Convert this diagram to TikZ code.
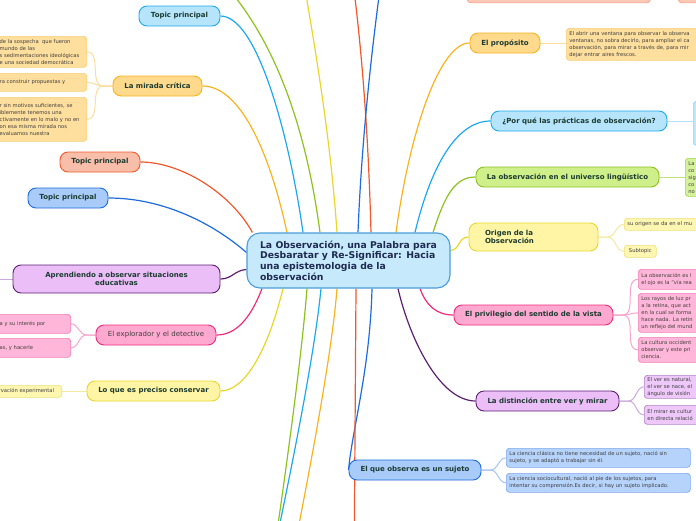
\documentclass[tikz,border=0pt]{standalone}
\usepackage{fontspec}
\setmainfont{DejaVu Sans}
\usetikzlibrary{backgrounds}

% Branch colours: fill, line and sub-topic shade.
\definecolor{ctrfill}{HTML}{C6EAFB}
\definecolor{ctrline}{HTML}{4A9DDA}
\definecolor{cyanfill}{HTML}{B5E4FB}
\definecolor{cyanline}{HTML}{1CA9EC}
\definecolor{cyansub}{HTML}{8FD5F6}
\definecolor{amberfill}{HTML}{FFD98C}
\definecolor{amberline}{HTML}{F8B31E}
\definecolor{ambersub}{HTML}{F9CF72}
\definecolor{salmonfill}{HTML}{F9BEA9}
\definecolor{salmonline}{HTML}{F0582B}
\definecolor{salmonsub}{HTML}{F5A48A}
\definecolor{bluefill}{HTML}{A9CBFA}
\definecolor{blueline}{HTML}{1C6BDF}
\definecolor{bluesub}{HTML}{7FAAF0}
\definecolor{purplefill}{HTML}{EBBEF8}
\definecolor{purpleline}{HTML}{5C1E70}
\definecolor{purplesub}{HTML}{B584CB}
\definecolor{pinkfill}{HTML}{FFA9D1}
\definecolor{pinkline}{HTML}{EE2B7B}
\definecolor{pinksub}{HTML}{F57EB7}
\definecolor{yellowfill}{HTML}{FFF5A5}
\definecolor{yellowline}{HTML}{E8D62A}
\definecolor{yellowsub}{HTML}{EEE17A}
\definecolor{greenfill}{HTML}{CFEF8A}
\definecolor{greenline}{HTML}{8DC21E}
\definecolor{greensub}{HTML}{A7D44A}
\definecolor{topicink}{HTML}{1C3B30}
\definecolor{ctrink}{HTML}{1E2A50}
\definecolor{subink}{HTML}{3E3E3E}

\begin{document}
\begin{tikzpicture}[
  x=1pt, y=-1pt,
  central/.style={
    draw=ctrline,
    fill=ctrfill,
    text=ctrink,
    rounded corners=13pt,
    line width=1.1pt,
    minimum width=203pt,
    minimum height=55pt,
    align=left,
    font=\fontsize{9.3}{10.7}\selectfont\bfseries
  },
  topic/.style={
    draw=#1line,
    fill=#1fill,
    text=topicink,
    rounded corners=8pt,
    line width=0.9pt,
    minimum height=20pt,
    inner xsep=2pt,
    inner ysep=1pt,
    align=center,
    font=\fontsize{7}{8.6}\selectfont\bfseries
  },
  leaf/.style={
    draw=#1sub,
    fill=#1fill!85!white,
    text=subink,
    rounded corners=3pt,
    line width=0.7pt,
    inner xsep=3pt,
    inner ysep=1.5pt,
    align=left,
    font=\fontsize{5.2}{7}\selectfont
  },
  branch/.style={draw=#1line, line width=1.2pt},
  twig/.style={draw=#1sub!70!white, line width=1pt},
]
\useasboundingbox (0,0) rectangle (696,520);

% Central topic.
\node[central] (ctr) at (348.5,260.5) {La Observación, una Palabra para\\Desbaratar y Re-Significar: Hacia\\una epistemologia de la\\observación};

% Left branches.
\node[topic=cyan, minimum width=81pt] (tpcyan) at (179.5,16) {Topic principal};
\node[topic=amber, minimum width=89pt] (mirada) at (157.5,86) {La mirada crítica};
\node[topic=salmon, minimum width=80pt] (tpsalmon) at (100,162) {Topic principal};
\node[topic=blue, minimum width=80pt] (tpblue) at (68,198) {Topic principal};
\node[topic=purple, minimum width=207pt, minimum height=28pt] (aprend) at (116.5,279) {Aprendiendo a observar situaciones\\educativas};
\node[topic=pink, minimum width=120pt, font=\fontsize{7}{8.6}\selectfont, text=subink] (explor) at (156,335) {El explorador y el detective};
\node[topic=yellow, minimum width=133pt] (conserv) at (153.5,391) {Lo que es preciso conservar};

\node[leaf=amber, anchor=north east, text width=84pt, minimum height=31pt] (mcA) at (87,36) {de la sospecha\ \ que fueron\\mundo de las\\s sedimentaciones ideológicas\\e una sociedad democrática};
\node[leaf=amber, anchor=north east, text width=84pt, minimum height=18pt] (mcB) at (87,73) {ra construir propuestas y};
\node[leaf=amber, anchor=north east, text width=84pt, minimum height=44pt] (mcC) at (87,97) {r sin motivos suficientes, se\\iblemente tenemos una\\ctivamente en lo malo y no en\\on esa misma mirada nos\\evaluamos nuestra};
\node[leaf=pink, anchor=north east, text width=68pt, minimum height=19pt] (exA) at (71,314) {a y su interés por};
\node[leaf=pink, anchor=north east, text width=68pt, minimum height=19pt] (exB) at (71,338) {as, y hacerle};
\node[leaf=yellow, anchor=north east, text width=60pt, minimum height=12pt, inner ysep=0.5pt] (csA) at (62,385) {rvación experimental};
\coordinate (aprendout) at (-20,279);

% Right branches.
\node[leaf=salmon, anchor=south west, minimum width=183pt, minimum height=30pt] (salA) at (467,3) {};
\node[leaf=salmon, anchor=south west, minimum width=60pt, minimum height=30pt] (salB) at (678,3) {};

\node[topic=amber, minimum width=70pt] (prop) at (505,43) {El propósito};
\node[topic=cyan, minimum width=176pt] (porque) at (579,121) {¿Por qué las prácticas de observación?};
\node[topic=green, minimum width=183pt] (lingu) at (567.5,177) {La observación en el universo lingüístico};
\node[topic=yellow, minimum height=28pt, text width=97pt, inner xsep=16pt, align=left] (origen) at (533.5,237) {Origen de la\\Observación};
\node[topic=pink, minimum width=159pt] (privil) at (533.5,315) {El privilegio del sentido de la vista};
\node[topic=purple, minimum width=143pt] (distin) at (547.5,401) {La distinción entre ver y mirar};
\node[topic=blue, minimum width=132pt] (sujeto) at (415,470) {El que observa es un sujeto};

\node[leaf=amber, anchor=north west, text width=190pt, minimum height=32pt] (propsub) at (566,28) {El abrir una ventana para observar la observa\\ventanas, no sobra decirlo, para ampliar el ca\\observación, para mirar a través de, para mir\\dejar entrar aires frescos.};
\node[leaf=cyan, anchor=north west, minimum width=80pt, minimum height=44pt] (porquesub) at (693,101) {};
\node[leaf=green, anchor=north west, text width=80pt, minimum height=38pt] (lingusub) at (685,158) {La\\co\\sig\\co\\no};
\node[leaf=yellow, anchor=north west, text width=100pt, minimum height=12pt, inner ysep=0.5pt] (orA) at (624,218) {su origen se da en el mu};
\node[leaf=yellow, anchor=north west, minimum width=32pt, minimum height=12pt, inner ysep=0.5pt] (orB) at (624,245) {Subtopic};
\node[leaf=pink, anchor=north west, text width=100pt, minimum height=20pt] (pvA) at (638,269) {La observación es l\\el ojo es la "vía rea};
\node[leaf=pink, anchor=north west, text width=100pt, minimum height=39pt] (pvB) at (638,293) {Los rayos de luz pr\\a la retina, que act\\en la cual se forma\\hace nada. La retin\\un reflejo del mund};
\node[leaf=pink, anchor=north west, text width=100pt, minimum height=25pt] (pvC) at (638,337) {La cultura occident\\observar y este pri\\ciencia.};
\node[leaf=purple, anchor=north west, text width=100pt, minimum height=23pt] (diA) at (644,375) {El ver es natural,\\el ver se nace, el\\ángulo de visión};
\node[leaf=purple, anchor=north west, text width=100pt, minimum height=19pt] (diB) at (644,405) {El mirar es cultur\\en directa relació};
\node[leaf=blue, anchor=north west, text width=178pt, minimum height=19pt] (sjA) at (506,448) {La ciencia clásica no tiene necesidad de un sujeto, nació sin\\sujeto, y se adaptó a trabajar sin él.};
\node[leaf=blue, anchor=north west, text width=178pt, minimum height=19pt] (sjB) at (506,473) {La ciencia sociocultural, nació al pie de los sujetos, para\\intentar su comprensión.Es decir, si hay un sujeto implicado.};

% Branches that leave the picture.
\coordinate (topgreen) at (200,-40);
\coordinate (topyellow) at (300,-40);
\coordinate (topred) at (350,-40);
\coordinate (topblue) at (384,-40);
\coordinate (botgreen) at (270,580);
\coordinate (botcyan) at (268,580);
\coordinate (botorange) at (288,580);
\coordinate (botred) at (354,580);

\begin{scope}[on background layer]
  \draw[branch=salmon] ([xshift=6pt]ctr.north west) .. controls (230,192) and (180,162) .. (tpsalmon.east);
  \draw[branch=amber] ([xshift=-61.5pt]ctr.north) .. controls (268,145) and (238,86) .. (mirada.east);
  \draw[branch=cyan] ([xshift=-45.5pt]ctr.north) .. controls (290,140) and (258,16) .. (tpcyan.east);
  \draw[branch=green] ([xshift=-28.5pt]ctr.north) .. controls (305,120) and (270,20) .. (topgreen);
  \draw[branch=yellow] ([xshift=-11.5pt]ctr.north) .. controls (330,130) and (312,30) .. (topyellow);
  \draw[branch=salmon] ([xshift=22.5pt]ctr.north) .. controls (368,120) and (360,30) .. (topred);
  \draw[branch=blue] ([xshift=9.5pt]ctr.north) .. controls (362,130) and (374,30) .. (topblue);
  \draw[branch=amber] ([xshift=47.5pt]ctr.north) .. controls (410,130) and (440,43) .. (prop.west);
  \draw[branch=cyan] ([xshift=66.5pt]ctr.north) .. controls (430,170) and (455,121) .. (porque.west);
  \draw[branch=green] ([xshift=84.5pt]ctr.north) .. controls (445,195) and (455,177) .. (lingu.west);
  \draw[branch=yellow] ([yshift=10pt]ctr.east) .. controls (460,250) and (458,237) .. (origen.west);
  \draw[branch=pink] ([xshift=71.5pt]ctr.south) .. controls (426,305) and (436,315) .. (privil.west);
  \draw[branch=purple] ([xshift=49.5pt]ctr.south) .. controls (410,340) and (440,401) .. (distin.west);
  \draw[branch=blue] ([xshift=23.5pt]ctr.south) .. controls (370,370) and (352,430) .. (sujeto.west);
  \draw[branch=salmon] ([xshift=7.5pt]ctr.south) -- (botred);
  \draw[branch=amber] ([xshift=-11.5pt]ctr.south) .. controls (333,340) and (318,430) .. (botorange);
  \draw[branch=cyan] ([xshift=-27.5pt]ctr.south) .. controls (316,340) and (300,430) .. (botcyan);
  \draw[branch=green] ([xshift=-41.5pt]ctr.south) .. controls (303,340) and (292,430) .. (botgreen);
  \draw[branch=yellow] ([xshift=-65.5pt]ctr.south) .. controls (268,350) and (245,391) .. (conserv.east);
  \draw[branch=pink] ([xshift=-86.5pt]ctr.south) .. controls (250,320) and (235,335) .. (explor.east);
  \draw[branch=purple] ([yshift=-9pt]ctr.west) .. controls (235,270) and (232,279) .. (aprend.east);
  \draw[branch=blue] ([yshift=8pt]ctr.west) .. controls (215,225) and (165,198) .. (tpblue.east);

  % Sub-topic links.
  \foreach \leafname in {mcA,mcB,mcC}
    \draw[twig=amber] (mirada.west) -- ++(-9,0) to[out=180,in=0] (\leafname.east);
  \foreach \leafname in {exA,exB}
    \draw[twig=pink] (explor.west) -- ++(-9,0) to[out=180,in=0] (\leafname.east);
  \draw[twig=yellow] (conserv.west) -- (conserv.west -| csA.east);
  \draw[twig=purple] (aprend.west) -- (aprendout);
  \draw[twig=amber] (prop.east) -- (prop.east -| propsub.west);
  \draw[twig=cyan] (porque.east) -- (porque.east -| porquesub.west);
  \draw[twig=green] (lingu.east) -- (lingu.east -| lingusub.west);
  \foreach \leafname in {orA,orB}
    \draw[twig=yellow] (origen.east) -- ++(9,0) to[out=0,in=180] (\leafname.west);
  \foreach \leafname in {pvA,pvB,pvC}
    \draw[twig=pink] (privil.east) -- ++(9,0) to[out=0,in=180] (\leafname.west);
  \foreach \leafname in {diA,diB}
    \draw[twig=purple] (distin.east) -- ++(9,0) to[out=0,in=180] (\leafname.west);
  \foreach \leafname in {sjA,sjB}
    \draw[twig=blue] (sujeto.east) -- ++(9,0) to[out=0,in=180] (\leafname.west);
\end{scope}

\end{tikzpicture}
\end{document}
